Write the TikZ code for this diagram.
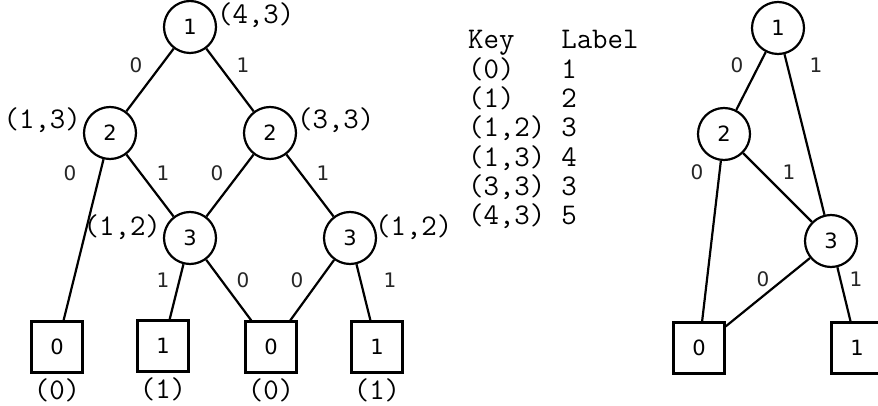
\documentclass[tikz,border=0pt]{standalone}
\usepackage{fontspec}
\newfontfamily\digitfont{DejaVu Sans}
\usetikzlibrary{positioning}

\begin{document}
\begin{tikzpicture}[x=0.5pt,y=-0.5pt,
  vnode/.style={draw,circle,line width=1.1pt,minimum size=26pt,inner sep=0pt,font=\digitfont\fontsize{10.5}{12}\selectfont},
  tnode/.style={draw,rectangle,line width=1.1pt,minimum size=25.5pt,inner sep=0pt,font=\digitfont\fontsize{10.5}{12}\selectfont},
  klabel/.style={inner sep=0pt,font=\ttfamily\fontsize{15}{14.15}\selectfont},
  elabel/.style={inner sep=0pt,text=black!85,font=\digitfont\fontsize{10}{12}\selectfont},
  every path/.style={line width=1.1pt}]
\useasboundingbox (0,0) rectangle (878,406);

\node[vnode] (a1) at (190,27) {1};
\node[vnode] (a2l) at (110,133) {2};
\node[vnode] (a2r) at (270,133) {2};
\node[vnode] (a3l) at (190,238) {3};
\node[vnode] (a3r) at (350,238) {3};
\node[tnode] (b1) at (57,347) {0};
\node[tnode] (b2) at (163,346) {1};
\node[tnode] (b3) at (271,347) {0};
\node[tnode] (b4) at (377,347) {1};

\node[klabel,anchor=west] (k43) at (216,15) {(4,3)};
\node[klabel,anchor=east] (k13) at (82,120) {(1,3)};
\node[klabel,anchor=west] (k33) at (296,120) {(3,3)};
\node[klabel,anchor=east] (k12l) at (162,227) {(1,2)};
\node[klabel,anchor=west] (k12r) at (374,227) {(1,2)};
\foreach\b/\t in {b1/0,b2/1,b3/0,b4/1}
  \node[klabel,below=2pt of \b] (k\b) {(\t)};

\foreach\u/\v in {a1/a2l,a1/a2r,a2l/b1,a2l/a3l,a2r/a3l,a2r/a3r,a3l/b2,a3l/b3,a3r/b3,a3r/b4}
  \draw (\u) -- (\v);

\foreach\x/\y/\t in {136/65/0,243/65/1,70/173/0,163/173/1,217/173/0,323/173/1,163/280/1,243/280/0,297/280/0,390/280/1}
  \node[elabel] at (\x,\y) {\t};

\node[klabel,anchor=base west] (keytab) at (467,49) {\begin{tabular}[t]{@{}l@{\hspace{8pt}}l@{}}
Key & Label\\
(0) & 1\\
(1) & 2\\
(1,2) & 3\\
(1,3) & 4\\
(3,3) & 3\\
(4,3) & 5
\end{tabular}};

\node[vnode] (r1) at (778,28) {1};
\node[vnode] (r2) at (724,134) {2};
\node[vnode] (r3) at (831,241) {3};
\node[tnode] (s0) at (699,348) {0};
\node[tnode] (s1) at (857,348) {1};

\foreach\u/\v in {r1/r2,r1/r3,r2/s0,r2/r3,r3/s0,r3/s1}
  \draw (\u) -- (\v);

\foreach\x/\y/\t in {737/65/0,816/65/1,697/172/0,789/172/1,763/279/0,856/279/1}
  \node[elabel] at (\x,\y) {\t};
\end{tikzpicture}
\end{document}
